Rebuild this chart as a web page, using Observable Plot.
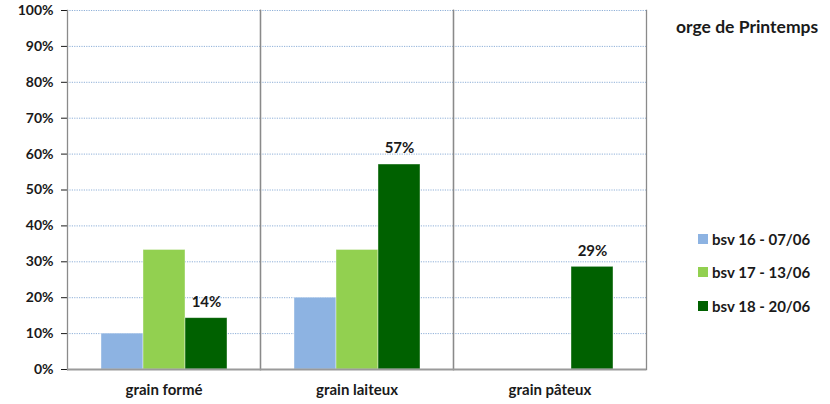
<!DOCTYPE html>
<html>
<head>
<meta charset="utf-8">
<script src="https://cdn.jsdelivr.net/npm/d3@7"></script>
<script src="https://cdn.jsdelivr.net/npm/@observablehq/plot@0.6"></script>
<style>
  html, body { margin: 0; padding: 0; background: #fff; }
  #wrap { position: relative; width: 830px; height: 404px; font-family: Lato, "DejaVu Sans", sans-serif; font-weight: bold; color: #1a1a1a; }
  #title { position: absolute; left: 676px; top: 16px; font-size: 17.5px; white-space: nowrap; }
  #legend { position: absolute; left: 698px; top: 222px; font-size: 15px; }
  .item { display: flex; align-items: center; height: 33.5px; white-space: nowrap; }
  .sw { width: 10px; height: 10px; margin-right: 4px; }
  svg g[aria-label="y-axis tick"] { stroke: #999; }
</style>
</head>
<body>
<div id="wrap">
  <div id="chart"></div>
  <div id="title">orge de Printemps</div>
  <div id="legend"></div>
</div>
<script>
const categories = ["grain formé", "grain laiteux", "grain pâteux"];
const series = ["bsv 16 - 07/06", "bsv 17 - 13/06", "bsv 18 - 20/06"];
const colors = ["#8db3e2", "#92d050", "#006100"];
const bsv16 = [10, 20, 0];
const bsv17 = [33.3, 33.3, 0];
const bsv18 = [14.3, 57.1, 28.6];
const labeledSeries = "bsv 18 - 20/06";
const yTicks = [0, 10, 20, 30, 40, 50, 60, 70, 80, 90, 100];

const seriesValues = [bsv16, bsv17, bsv18];
const rows = [];
categories.forEach((c, i) => {
  series.forEach((s, j) => {
    const v = seriesValues[j][i];
    if (v > 0) rows.push({category: c, series: s, value: v});
  });
});

const chart = Plot.plot({
  width: 830,
  height: 404,
  marginLeft: 66,
  marginRight: 183,
  marginTop: 10,
  marginBottom: 35,
  style: {fontFamily: "Lato, 'DejaVu Sans', sans-serif", fontSize: "14px", fontWeight: "bold", color: "#1a1a1a", background: "transparent"},
  fx: {domain: categories, padding: 0, axis: "bottom", tickSize: 0, tickPadding: 15, label: null},
  x: {domain: series, paddingInner: 0, paddingOuter: 0.756, axis: null},
  y: {domain: [0, 100], ticks: yTicks, tickFormat: d => d + "%", tickSize: 6, tickPadding: 8, label: null},
  color: {domain: series, range: colors},
  marks: [
    Plot.ruleY(yTicks, {stroke: "#8fb0d8", strokeDasharray: "1.2,1.2", strokeWidth: 1}),
    Plot.barY(rows, {fx: "category", x: "series", y: "value", fill: "series", stroke: "#ffffff", strokeOpacity: 0.5, strokeWidth: 0.8}),
    Plot.frame({anchor: "left", stroke: "#8a8a8a", strokeWidth: 1.3}),
    Plot.frame({anchor: "right", stroke: "#8a8a8a", strokeWidth: 1.3}),
    Plot.ruleY([0], {stroke: "#9a9a9a", strokeWidth: 2}),
    Plot.text(rows.filter(d => d.series === labeledSeries), {fx: "category", x: "series", y: "value", text: d => Math.round(d.value) + "%", dy: -16, fill: "#1a1a1a", fontSize: 15, fontWeight: "bold"})
  ]
});
chart.querySelectorAll('g[aria-label="fx-axis tick label"] text').forEach(t => t.setAttribute("font-size", 15));
document.getElementById("chart").appendChild(chart);

const legend = document.getElementById("legend");
series.forEach((s, i) => {
  const item = document.createElement("div");
  item.className = "item";
  const sw = document.createElement("span");
  sw.className = "sw";
  sw.style.background = colors[i];
  const t = document.createElement("span");
  t.textContent = s;
  item.appendChild(sw);
  item.appendChild(t);
  legend.appendChild(item);
});
</script>
</body>
</html>
